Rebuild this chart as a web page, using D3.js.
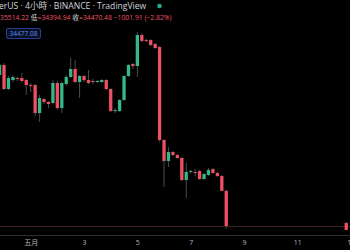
<!DOCTYPE html>
<html>
<head>
<meta charset="utf-8">
<script src="https://cdn.jsdelivr.net/npm/d3@7/dist/d3.min.js"></script>
<style>
    html, body { margin: 0; padding: 0; background: #000; overflow: hidden; }
    svg { display: block; }
    text { font-family: "Open Sans", "Noto Sans", "Noto Sans CJK TC", sans-serif; }
</style>
</head>
<body>
<div id="chart"></div>
<script>
// BTC/USDT 4h, mei 2022. Balknummer = aantal 4u-balken na 1 mei 00:00.
var bars = [-7, -6, -5, -4, -3, -2, -1, 0, 1, 2, 3, 4, 5, 6, 7, 8, 9, 10, 11, 12, 13, 14, 15, 16,
    17, 18, 19, 20, 21, 22, 23, 24, 25, 26, 27, 28, 29, 30, 31, 32, 33, 34, 35, 36, 37, 38, 39,
    40, 41, 42, 43, 44, 71];
var opens = [38784, 39070, 38384, 38641, 38698, 38698, 38641, 38498, 38498, 37698, 38098, 38013,
    37984, 38556, 37841, 38527, 38727, 38956, 38584, 38756, 38641, 38613, 38584, 38584, 38641,
    38384, 37756, 37756, 38070, 38756, 39098, 39041, 39927, 39784, 39784, 39670, 39584, 36927,
    36327, 36584, 36498, 36413, 35784, 36013, 36013, 36041, 35813, 35927, 36098, 35984, 35898,
    35472.39, 34556];
var highs = [39127, 39127, 38756, 38784, 38727, 38841, 38670, 38556, 38527, 38213, 38127, 38041,
    38641, 38613, 38584, 38784, 39270, 39213, 38784, 38784, 38927, 38670, 38641, 38670, 38670,
    38413, 37841, 38098, 38784, 39098, 39127, 40013, 39984, 39813, 39813, 39698, 39613, 36956,
    36727, 36613, 36527, 36441, 36270, 36070, 36098, 36070, 35984, 36127, 36127, 36013, 35927,
    35514.22, 34584];
var lows = [38727, 38356, 38356, 38584, 38613, 38584, 38213, 38298, 37613, 37441, 37956, 37841,
    37956, 37784, 37698, 38470, 38698, 38556, 38127, 38584, 38527, 38527, 38556, 38556, 38356,
    37727, 37698, 37727, 38041, 38727, 38956, 38727, 39727, 39727, 39613, 39527, 36870, 35584,
    36156, 36470, 36384, 35756, 35270, 35956, 35898, 35784, 35784, 35898, 35956, 35870, 35470,
    34394.94, 34356];
var closes = [39070, 38384, 38698, 38727, 38670, 38613, 38498, 38470, 37698, 38127, 38013, 37956,
    38556, 37841, 38556, 38727, 38956, 38584, 38756, 38641, 38556, 38584, 38613, 38641, 38384,
    37756, 37784, 38070, 38756, 39070, 39041, 39927, 39756, 39756, 39641, 39556, 36927, 36327,
    36584, 36498, 36413, 35784, 36013, 36041, 35984, 35813, 35956, 36070, 35984, 35898, 35472.39,
    34470.48, 34356];

var dayTicks = [1, 3, 5, 7, 9, 11, 13];
var dayLabels = ['五月', '3', '5', '7', '9', '11', '13'];

var titleText = 'erUS · 4小時 · BINANCE · TradingView';
var legendParts = [
    { t: '35514.22 ', c: 'val' },
    { t: '低', c: 'lbl' },
    { t: '=34394.94 ', c: 'val' },
    { t: '收', c: 'lbl' },
    { t: '=34470.48 ', c: 'val' },
    { t: '−1001.91 (−2.82%)', c: 'val' }
];
var lastPrice = 34470.48;
var markerText = '34477.08';

(function () {
    'use strict';

    var W = 350;
    var H = 250;
    var UP = '#35b887';
    var DOWN = '#ee4f62';
    var WICK = '#5b5e66';

    var start = new Date(2022, 4, 1);
    function barDate(n) {
        return d3.timeHour.offset(start, n * 4);
    }

    var x = d3.scaleTime()
        .domain([new Date(2022, 4, 1), new Date(2022, 4, 13)])
        .range([30.7, 350.7]);
    var y = d3.scaleLinear()
        .domain([34470, 39956])
        .range([226, 34]);

    var data = bars.map(function (b, i) {
        return { t: barDate(b), o: opens[i], h: highs[i], l: lows[i], c: closes[i] };
    });

    var svg = d3.select('#chart').append('svg')
        .attr('width', W)
        .attr('height', H)
        .attr('viewBox', '0 0 ' + W + ' ' + H);

    svg.append('rect').attr('width', W).attr('height', H).attr('fill', '#000');

    // prijslijn van de laatste slotkoers
    svg.append('line')
        .attr('x1', 0).attr('x2', W)
        .attr('y1', Math.round(y(lastPrice)) + 0.5).attr('y2', Math.round(y(lastPrice)) + 0.5)
        .attr('stroke', '#3d1f24')
        .attr('stroke-width', 1);

    var bw = 3.3;
    var g = svg.append('g');

    g.selectAll('line.wick')
        .data(data)
        .join('line')
        .attr('class', 'wick')
        .attr('x1', function (d) { return x(d.t); })
        .attr('x2', function (d) { return x(d.t); })
        .attr('y1', function (d) { return y(d.h); })
        .attr('y2', function (d) { return y(d.l); })
        .attr('stroke', WICK)
        .attr('stroke-width', 0.8);

    g.selectAll('rect.body')
        .data(data)
        .join('rect')
        .attr('class', 'body')
        .attr('x', function (d) { return x(d.t) - bw / 2; })
        .attr('width', bw)
        .attr('y', function (d) { return y(Math.max(d.o, d.c)); })
        .attr('height', function (d) { return Math.max(1, Math.abs(y(d.o) - y(d.c))); })
        .attr('fill', function (d) { return d.c >= d.o ? UP : DOWN; });

    // tijdas
    svg.append('line')
        .attr('x1', 0).attr('x2', W)
        .attr('y1', 235.5).attr('y2', 235.5)
        .attr('stroke', '#2e2e2e');

    var axis = d3.axisBottom(x)
        .tickValues(dayTicks.map(function (d) { return new Date(2022, 4, d); }))
        .tickFormat(function (d, i) { return dayLabels[i]; })
        .tickSize(0)
        .tickPadding(0);

    var ax = svg.append('g')
        .attr('transform', 'translate(0,240)')
        .call(axis);
    ax.select('.domain').remove();
    ax.selectAll('text')
        .attr('dy', '0.35em')
        .attr('y', 3)
        .attr('fill', '#b2b5be')
        .style('font-size', '7px');

    // kop
    svg.append('text')
        .attr('x', -1).attr('y', 9)
        .attr('fill', '#d1d4dc')
        .style('font-size', '8.6px')
        .text(titleText);

    svg.append('circle')
        .attr('cx', 159.5).attr('cy', 6)
        .attr('r', 2.3)
        .attr('fill', '#22ab94');

    var legend = svg.append('text')
        .attr('x', 0).attr('y', 19.5)
        .style('font-size', '6.8px');
    legend.selectAll('tspan')
        .data(legendParts)
        .join('tspan')
        .attr('fill', function (d) { return d.c === 'val' ? '#ef5361' : '#d1d4dc'; })
        .text(function (d) { return d.t; });

    // prijsmarker
    svg.append('rect')
        .attr('x', 6.5).attr('y', 28.5)
        .attr('width', 34).attr('height', 10)
        .attr('rx', 1.5)
        .attr('fill', '#0b1020')
        .attr('stroke', '#2a4fb8')
        .attr('stroke-width', 0.8);
    svg.append('text')
        .attr('x', 23.5).attr('y', 36)
        .attr('text-anchor', 'middle')
        .attr('fill', '#5b8cff')
        .style('font-size', '6.6px')
        .text(markerText);
})();
</script>
</body>
</html>
